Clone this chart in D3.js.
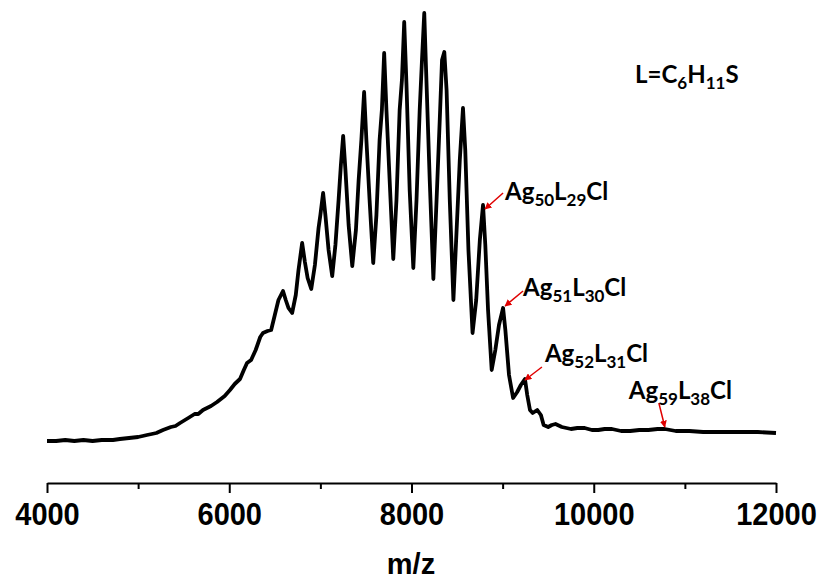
<!DOCTYPE html>
<html><head><meta charset="utf-8">
<script src="https://cdn.jsdelivr.net/npm/d3@7"></script>
<style>body{margin:0;background:#fff}</style>
</head><body>
<svg id="c" width="823" height="580"></svg>
<script>
// m/z values and intensities (a.u.)
const mz = [4000,4100,4200,4300,4400,4500,4600,4724,4800,4900,5000,5050,5097,5150,5200,5273,5360,5410,5460,5550,5620,5660,5712,5800,5866,5950,6008,6060,6118,6160,6195,6240,6290,6340,6370,6420,6460,6500,6540,6590,6620,6650,6690,6730,6760,6800,6830,6860,6900,6940,6980,7000,7030,7055,7090,7130,7165,7200,7225,7250,7275,7310,7350,7390,7420,7450,7480,7505,7540,7580,7615,7650,7675,7700,7725,7760,7800,7835,7870,7895,7920,7945,7980,8020,8055,8090,8115,8140,8160,8200,8240,8275,8310,8335,8360,8385,8420,8460,8495,8530,8565,8590,8625,8670,8710,8750,8785,8810,8840,8880,8920,8960,9005,9030,9070,9115,9160,9200,9245,9270,9300,9330,9380,9420,9450,9500,9540,9580,9650,9700,9750,9820,9900,9980,10050,10120,10200,10300,10400,10500,10600,10700,10780,10900,11050,11200,11350,11500,11650,11800,12000];
const intensity = [4,4,5,4,5,4,5,5,6,7,8,9,10,11,12,15,18,19,22,27,31,31,35,39,43,49,55,61,66,75,82,85,95,108,112,114,115,130,145,154,145,137,132,150,175,202,183,167,156,180,217,230,252,230,195,169,200,245,280,309,275,220,179,215,265,305,353,305,245,182,230,305,335,392,335,265,186,245,335,365,423,360,255,177,245,335,385,432,375,265,166,245,325,385,393,355,245,145,215,285,337,295,195,112,145,205,240,200,135,75,95,120,137,115,70,47,53,60,66,50,35,32,35,30,20,18,20,21,18,17,16,17,17,15,15,16,16,14,14,15,15,16,16,14,14,13,13,13,13,13,12];
const majorTicks = [4000,6000,8000,10000,12000];
const minorTicks = [5000,7000,9000,11000];
const annMz = [8785,9005,9245,10780];
const annSubs = [["50","29"],["51","30"],["52","31"],["59","38"]];
const xTitle = "m/z";

const svg = d3.select("#c");
const x = d3.scaleLinear().domain([4000,12000]).range([47,776]);
const y = d3.scaleLinear().domain([0,432]).range([445,13]);
const data = mz.map((m,i)=>({m, v:intensity[i]}));

svg.append("path").datum(data)
  .attr("d", d3.line().x(d=>x(d.m)).y(d=>y(d.v)))
  .attr("fill","none").attr("stroke","#000").attr("stroke-width",3.8)
  .attr("stroke-linejoin","round");

// axis
const gMinor = svg.append("g").attr("transform","translate(0,483)")
  .call(d3.axisBottom(x).tickValues(minorTicks).tickSize(6).tickSizeOuter(0).tickFormat(""));
gMinor.select(".domain").remove();
const gMajor = svg.append("g").attr("transform","translate(0,483)")
  .call(d3.axisBottom(x).tickValues(majorTicks).tickSize(10).tickSizeOuter(0).tickFormat(d3.format("d")));
svg.selectAll(".tick line").attr("stroke","#000").attr("stroke-width",2);
gMajor.select(".domain").attr("stroke","#000").attr("stroke-width",2);
gMajor.selectAll(".tick text")
  .attr("y",0).attr("dy",0)
  .attr("transform","translate(0,42) scale(1,1.1)")
  .attr("font-family","'Liberation Sans', Arial, sans-serif")
  .attr("font-weight","bold").attr("font-size",29).attr("fill","#000");

svg.append("text").attr("x",411).attr("y",574).attr("text-anchor","middle")
  .attr("font-family","'Liberation Sans', Arial, sans-serif").attr("font-weight","bold")
  .attr("font-size",29).text(xTitle);

// annotations
const defs = svg.append("defs");
defs.append("marker").attr("id","ah").attr("viewBox","0 0 10 10").attr("refX",9).attr("refY",5)
  .attr("markerWidth",7).attr("markerHeight",7).attr("markerUnits","userSpaceOnUse").attr("orient","auto")
  .append("path").attr("d","M0,0L10,5L0,10Z").attr("fill","#e00000");

const layout = [
  {tip:[2,4], tail:[20,-12], txt:[22,-5]},
  {tip:[2,-2], tail:[20,-17], txt:[20,-12]},
  {tip:[0,1], tail:[17,-12], txt:[20,-17]},
  {tip:[0,-2], tail:[-6,-26], txt:[-36,-30]}
];
const fontAnn = "Lato, 'Open Sans', sans-serif";
annMz.forEach((m,i)=>{
  const v = intensity[mz.indexOf(m)];
  const px = x(m), py = y(v);
  const L = layout[i];
  svg.append("line")
    .attr("x1",px+L.tail[0]).attr("y1",py+L.tail[1])
    .attr("x2",px+L.tip[0]).attr("y2",py+L.tip[1])
    .attr("stroke","#e00000").attr("stroke-width",1.5).attr("marker-end","url(#ah)");
  const t = svg.append("text").attr("x",px+L.txt[0]).attr("y",py+L.txt[1])
    .attr("font-family",fontAnn).attr("font-weight","bold").attr("font-size",24).attr("fill","#000");
  t.append("tspan").text("Ag");
  t.append("tspan").attr("font-size",17).attr("dy",6).text(annSubs[i][0]);
  t.append("tspan").attr("dy",-6).text("L");
  t.append("tspan").attr("font-size",17).attr("dy",6).text(annSubs[i][1]);
  t.append("tspan").attr("dy",-6).text("Cl");
});

const f = svg.append("text").attr("x",635).attr("y",83)
  .attr("font-family",fontAnn).attr("font-weight","bold").attr("font-size",24).attr("fill","#000");
f.append("tspan").text("L=C");
f.append("tspan").attr("font-size",17).attr("dy",6).text("6");
f.append("tspan").attr("dy",-6).text("H");
f.append("tspan").attr("font-size",17).attr("dy",6).text("11");
f.append("tspan").attr("dy",-6).text("S");
</script>
</body></html>
